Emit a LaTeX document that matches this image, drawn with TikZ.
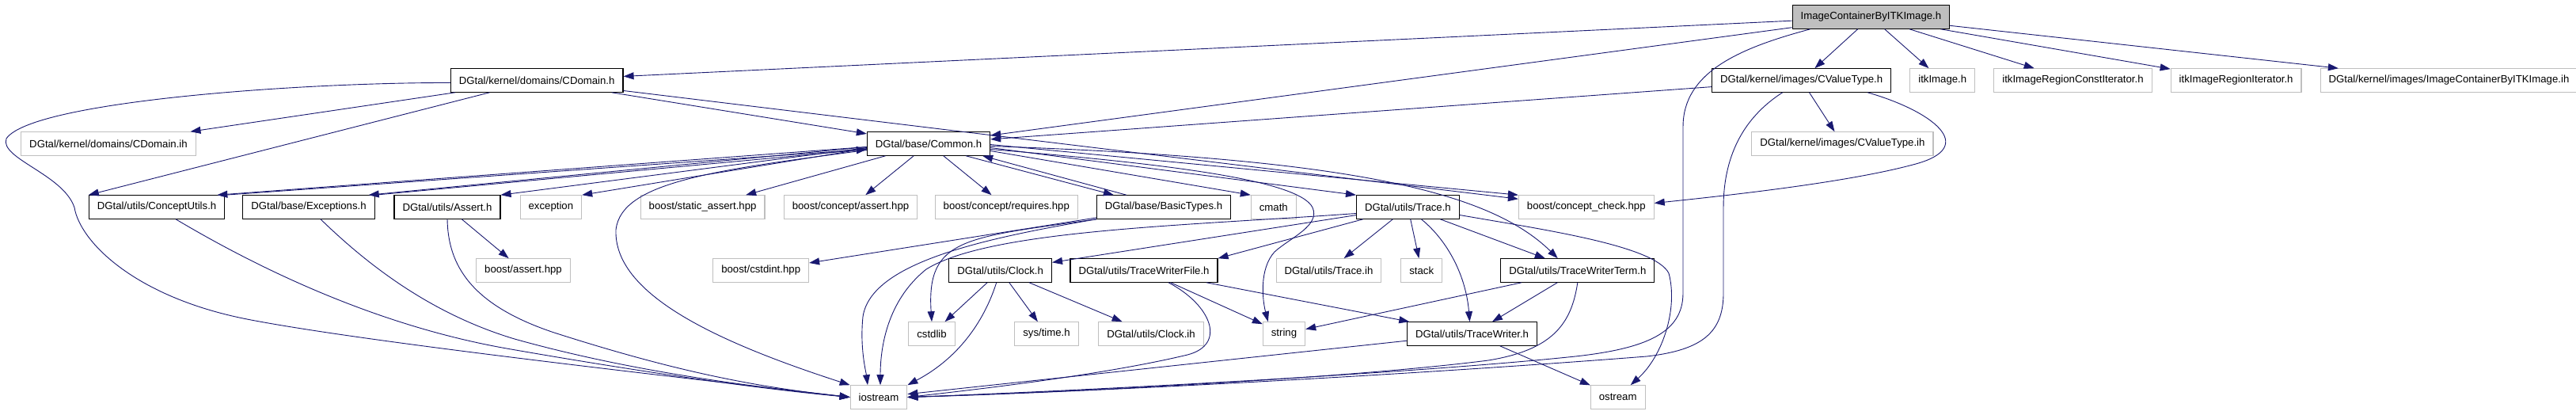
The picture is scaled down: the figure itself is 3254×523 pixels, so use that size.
\documentclass[tikz,border=0pt]{standalone}
\usepackage{fontspec}
\setmainfont{Liberation Sans}
\usetikzlibrary{positioning,arrows.meta}
\definecolor{incl}{HTML}{191970}
\definecolor{extgray}{HTML}{BFBFBF}

\begin{document}
\begin{tikzpicture}[
  x=1pt, y=-1pt,
  font=\fontsize{13.2}{15}\selectfont,
  hdr/.style={draw=black, line width=1.1pt, fill=white, inner xsep=10.5pt,
              inner ysep=0pt, minimum height=29.5pt},
  ext/.style={hdr, draw=extgray},
  cur/.style={hdr, fill=extgray},
  dep/.style={draw=incl, line width=0.9pt, -{Triangle[length=13pt,width=9pt]}},
]
\useasboundingbox (0,0) rectangle (3254,523);

% Current file
\node[cur] (main) at (2363.4,21.5) {ImageContainerByITKImage.h};

% Row 1
\node[hdr] (cdomain) at (678.2,101.5) {DGtal/kernel/domains/CDomain.h};
\node[hdr] (cvaluetype) at (2275.6,101.5) {DGtal/kernel/images/CValueType.h};
\node[ext, right=23pt of cvaluetype] (itkimage) {itkImage.h};
\node[ext, right=23pt of itkimage] (itkconstiter) {itkImageRegionConstIterator.h};
\node[ext, right=23pt of itkconstiter] (itkiter) {itkImageRegionIterator.h};
\node[ext, right=23pt of itkiter] (imageih) {DGtal/kernel/images/ImageContainerByITKImage.ih};

% Row 2
\node[ext] (cdomainih) at (137,181.5) {DGtal/kernel/domains/CDomain.ih};
\node[hdr] (common) at (1173,181.5) {DGtal/base/Common.h};
\node[ext] (cvaluetypeih) at (2327.4,181.5) {DGtal/kernel/images/CValueType.ih};

% Row 3
\node[hdr] (conceptutils) at (198.1,261.5) {DGtal/utils/ConceptUtils.h};
\node[hdr] (exceptions) at (390,261.5) {DGtal/base/Exceptions.h};
\node[hdr] (assert) at (565,261.5) {DGtal/utils/Assert.h};
\node[ext] (exception) at (695.9,261.5) {exception};
\node[ext] (staticassert) at (887.6,261.5) {boost/static\_assert.hpp};
\node[ext] (conceptassert) at (1074.5,261.5) {boost/concept/assert.hpp};
\node[ext] (requires) at (1271.3,261.5) {boost/concept/requires.hpp};
\node[hdr] (basictypes) at (1470,261.5) {DGtal/base/BasicTypes.h};
\node[ext] (cmath) at (1608.8,261.5) {cmath};
\node[hdr] (trace) at (1778.4,261.5) {DGtal/utils/Trace.h};
\node[ext] (conceptcheck) at (2003.8,261.5) {boost/concept\_check.hpp};

% Row 4
\node[ext] (boostassert) at (661,341.5) {boost/assert.hpp};
\node[ext] (cstdint) at (961.2,341.5) {boost/cstdint.hpp};
\node[hdr] (clock) at (1263.7,341.5) {DGtal/utils/Clock.h};
\node[hdr] (twfile) at (1445,341.5) {DGtal/utils/TraceWriterFile.h};
\node[ext] (traceih) at (1678.5,341.5) {DGtal/utils/Trace.ih};
\node[ext] (stack) at (1795.7,341.5) {stack};
\node[hdr] (twterm) at (1992.8,341.5) {DGtal/utils/TraceWriterTerm.h};

% Row 5
\node[ext] (cstdlib) at (1177,421.5) {cstdlib};
\node[ext] (systime) at (1322,421.5) {sys/time.h};
\node[ext] (clockih) at (1454,421.5) {DGtal/utils/Clock.ih};
\node[ext] (string) at (1622,421.5) {string};
\node[hdr] (tracewriter) at (1859.5,421.5) {DGtal/utils/TraceWriter.h};

% Row 6
\node[ext] (iostream) at (1110,501.5) {iostream};
\node[ext] (ostream) at (2043.7,501.5) {ostream};

% Current file includes
\draw[dep] (main) -- (cdomain);
\draw[dep] (main) -- (common);
\draw[dep] (main) -- (cvaluetype);
\draw[dep] (main) -- (itkimage);
\draw[dep] (main) -- (itkconstiter);
\draw[dep] (main) -- (itkiter);
\draw[dep] (main) -- (imageih);
\draw[dep] ([xshift=23pt]main.south west) .. controls (2200,60) and (2126,90) .. (2126,160)
  -- (2126,370) .. controls (2126,420) and (2080,440) .. (1990,450)
  .. controls (1800,470) and (1400,492) .. (iostream.east);

% CDomain
\draw[dep] (cdomain) -- (cdomainih);
\draw[dep] (cdomain) -- (conceptutils.north west);
\draw[dep] (cdomain) -- (common);
\draw[dep] (cdomain) -- (conceptcheck);
\draw[dep] ([yshift=-3pt]cdomain.west) .. controls (380,104) and (40,128) .. (8,175)
  .. controls (-1,200) and (80,220) .. (94,262)
  .. controls (101,305) and (170,375) .. (312,403)
  .. controls (450,430) and (800,470) .. (iostream.west);

% CValueType
\draw[dep] (cvaluetype) -- (common);
\draw[dep] (cvaluetype) -- (cvaluetypeih);
\draw[dep] ([xshift=-30pt]cvaluetype.south east) .. controls (2440,140) and (2500,185) .. (2420,207)
  .. controls (2340,229) and (2200,245) .. ([yshift=5pt]conceptcheck.east);
\draw[dep] ([xshift=-24pt]cvaluetype.south) .. controls (2200,150) and (2177,200) .. (2177,262)
  -- (2177,370) .. controls (2177,420) and (2150,442) .. (2080,450)
  .. controls (1800,472) and (1400,494) .. (iostream.east);

% Common
\draw[dep] ([yshift=-4pt]common.west) -- ([xshift=-10pt]conceptutils.north east);
\draw[dep] (conceptutils.north east) -- ([yshift=-7pt]common.west);
\draw[dep] ([yshift=-4pt]common.west) -- ([xshift=-8pt]exceptions.north east);
\draw[dep] (exceptions.north east) -- ([yshift=-7pt]common.west);
\draw[dep] ([yshift=-5pt]common.west) -- (assert.north east);
\draw[dep] ([yshift=-6pt]common.west) -- (exception.north east);
\draw[dep] (common) -- (staticassert);
\draw[dep] (common) -- (conceptassert);
\draw[dep] (common) -- (requires);
\draw[dep] ([xshift=-31pt]common.south east) -- ([xshift=22pt]basictypes.north west);
\draw[dep] ([xshift=38pt]basictypes.north west) -- ([xshift=-10pt]common.south east);
\draw[dep] ([yshift=-9pt]common.east) -- (cmath.north west);
\draw[dep] ([yshift=-5pt]common.east) -- (trace.north west);
\draw[dep] ([yshift=-1pt]common.east) -- (conceptcheck.north west);
\draw[dep] ([yshift=-3pt]common.east) .. controls (1700,200) and (1880,240) .. ([xshift=-25pt]twterm.north);
\draw[dep] ([yshift=-7pt]common.east) .. controls (1450,205) and (1640,225) .. (1658,262)
  .. controls (1668,285) and (1630,300) .. (1610,318)
  .. controls (1590,340) and (1595,380) .. ([xshift=7pt]string.north west);
\draw[dep] ([yshift=-8pt]common.west) .. controls (900,215) and (785,230) .. (778,290)
  .. controls (775,370) and (900,430) .. (iostream.north west);

% ConceptUtils, Exceptions, Assert
\draw[dep] ([xshift=24pt]conceptutils.south) .. controls (320,335) and (470,410) .. (640,440)
  .. controls (800,468) and (950,490) .. (iostream.west);
\draw[dep] ([xshift=15pt]exceptions.south) .. controls (460,330) and (540,395) .. (650,428)
  .. controls (800,470) and (950,488) .. (iostream.west);
\draw[dep] (assert) -- (boostassert);
\draw[dep] (assert.south) .. controls (566,335) and (595,385) .. (700,420)
  .. controls (850,468) and (950,488) .. (iostream.west);

% BasicTypes
\draw[dep] (basictypes) -- (cstdint);
\draw[dep] (basictypes.south west) .. controls (1220,300) and (1170,300) .. (cstdlib.north);
\draw[dep] (basictypes.south west) .. controls (1250,300) and (1100,330) .. (1090,400)
  .. controls (1086,440) and (1094,470) .. ([xshift=-14pt]iostream.north);

% Trace
\draw[dep] (trace) -- (traceih);
\draw[dep] (trace) -- (stack);
\draw[dep] (trace) -- (twterm);
\draw[dep] (trace) -- (clock);
\draw[dep] (trace) -- (twfile.north east);
\draw[dep] ([xshift=17pt]trace.south) .. controls (1830,305) and (1852,350) .. ([xshift=-3pt]tracewriter.north);
\draw[dep] ([yshift=-10pt]trace.east) .. controls (1950,290) and (2090,310) .. (2108,345)
  .. controls (2120,390) and (2100,450) .. ([xshift=16pt]ostream.north);
\draw[dep] ([yshift=-8pt]trace.west) .. controls (1500,285) and (1250,290) .. (1170,340)
  .. controls (1120,380) and (1112,440) .. ([xshift=2pt]iostream.north);

% Clock
\draw[dep] (clock) -- (cstdlib);
\draw[dep] (clock) -- (systime);
\draw[dep] (clock) -- (clockih);
\draw[dep] ([xshift=-5pt]clock.south) .. controls (1245,400) and (1215,450) .. (iostream.north east);

% Trace writers
\draw[dep] (twfile) -- (tracewriter);
\draw[dep] (twfile) -- (string);
\draw[dep] ([xshift=31pt]twfile.south) .. controls (1530,385) and (1550,435) .. (1500,448)
  .. controls (1400,472) and (1250,490) .. (iostream.east);
\draw[dep] (twterm) -- (tracewriter);
\draw[dep] (twterm) -- (string);
\draw[dep] (twterm.south) .. controls (1985,410) and (1960,442) .. (1880,455)
  .. controls (1700,478) and (1350,495) .. (iostream.east);
\draw[dep] (tracewriter) -- (iostream);
\draw[dep] (tracewriter) -- (ostream);
\end{tikzpicture}
\end{document}
